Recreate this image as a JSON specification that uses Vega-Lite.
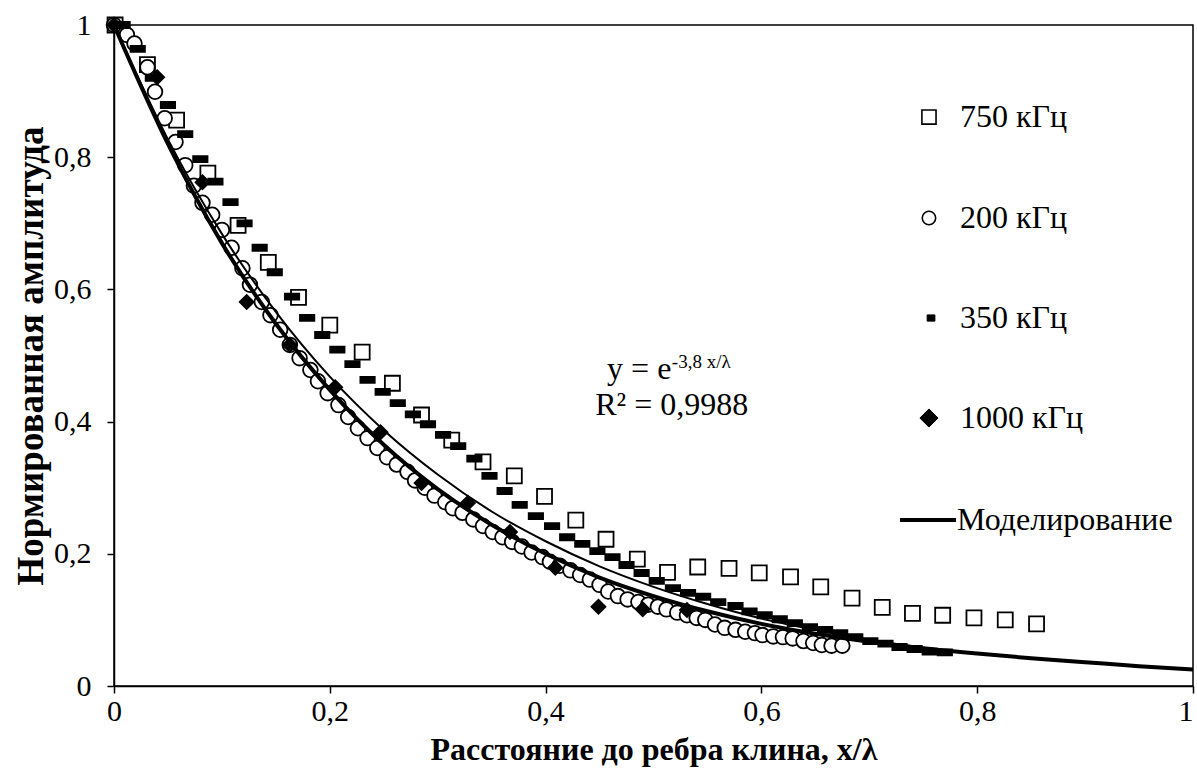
{
  "$schema": "https://vega.github.io/schema/vega-lite/v6.json",
  "width": 1079,
  "height": 661,
  "autosize": {"type": "none"},
  "padding": {"left": 114, "top": 25, "right": 4, "bottom": 90},
  "background": "white",
  "config": {
    "view": {"stroke": "black", "strokeWidth": 1.5},
    "axis": {
      "domainColor": "black", "domainWidth": 1.5, "tickColor": "black", "tickWidth": 1.5, "tickSize": 7,
      "labelFont": "Liberation Serif", "labelFontSize": 30, "labelColor": "black",
      "titleFont": "Liberation Serif", "titleFontWeight": "bold", "titleColor": "black",
      "grid": false
    },
    "text": {"font": "Liberation Serif", "color": "black"}
  },
  "datasets": {
    "points": [
      {"series": "750 кГц", "x": 0.001, "y": 1.0},
      {"series": "750 кГц", "x": 0.031, "y": 0.94},
      {"series": "750 кГц", "x": 0.058, "y": 0.856},
      {"series": "750 кГц", "x": 0.087, "y": 0.776},
      {"series": "750 кГц", "x": 0.115, "y": 0.697},
      {"series": "750 кГц", "x": 0.143, "y": 0.641},
      {"series": "750 кГц", "x": 0.171, "y": 0.588},
      {"series": "750 кГц", "x": 0.2, "y": 0.546},
      {"series": "750 кГц", "x": 0.23, "y": 0.505},
      {"series": "750 кГц", "x": 0.258, "y": 0.458},
      {"series": "750 кГц", "x": 0.285, "y": 0.41},
      {"series": "750 кГц", "x": 0.313, "y": 0.372},
      {"series": "750 кГц", "x": 0.342, "y": 0.339},
      {"series": "750 кГц", "x": 0.371, "y": 0.318},
      {"series": "750 кГц", "x": 0.399, "y": 0.287},
      {"series": "750 кГц", "x": 0.428, "y": 0.251},
      {"series": "750 кГц", "x": 0.456, "y": 0.222},
      {"series": "750 кГц", "x": 0.485, "y": 0.192},
      {"series": "750 кГц", "x": 0.513, "y": 0.172},
      {"series": "750 кГц", "x": 0.541, "y": 0.18},
      {"series": "750 кГц", "x": 0.57, "y": 0.178},
      {"series": "750 кГц", "x": 0.598, "y": 0.171},
      {"series": "750 кГц", "x": 0.627, "y": 0.165},
      {"series": "750 кГц", "x": 0.655, "y": 0.15},
      {"series": "750 кГц", "x": 0.684, "y": 0.133},
      {"series": "750 кГц", "x": 0.712, "y": 0.119},
      {"series": "750 кГц", "x": 0.74, "y": 0.11},
      {"series": "750 кГц", "x": 0.768, "y": 0.107},
      {"series": "750 кГц", "x": 0.797, "y": 0.103},
      {"series": "750 кГц", "x": 0.826, "y": 0.1},
      {"series": "750 кГц", "x": 0.855, "y": 0.094},
      {"series": "200 кГц", "x": 0.0, "y": 1.0},
      {"series": "200 кГц", "x": 0.012, "y": 0.985},
      {"series": "200 кГц", "x": 0.019, "y": 0.972},
      {"series": "200 кГц", "x": 0.031, "y": 0.936},
      {"series": "200 кГц", "x": 0.038, "y": 0.899},
      {"series": "200 кГц", "x": 0.047, "y": 0.859},
      {"series": "200 кГц", "x": 0.057, "y": 0.823},
      {"series": "200 кГц", "x": 0.066, "y": 0.788},
      {"series": "200 кГц", "x": 0.074, "y": 0.757},
      {"series": "200 кГц", "x": 0.082, "y": 0.731},
      {"series": "200 кГц", "x": 0.091, "y": 0.713},
      {"series": "200 кГц", "x": 0.1, "y": 0.69},
      {"series": "200 кГц", "x": 0.109, "y": 0.663},
      {"series": "200 кГц", "x": 0.119, "y": 0.632},
      {"series": "200 кГц", "x": 0.126, "y": 0.607},
      {"series": "200 кГц", "x": 0.137, "y": 0.581},
      {"series": "200 кГц", "x": 0.145, "y": 0.561},
      {"series": "200 кГц", "x": 0.154, "y": 0.539},
      {"series": "200 кГц", "x": 0.163, "y": 0.516},
      {"series": "200 кГц", "x": 0.172, "y": 0.496},
      {"series": "200 кГц", "x": 0.182, "y": 0.478},
      {"series": "200 кГц", "x": 0.189, "y": 0.461},
      {"series": "200 кГц", "x": 0.198, "y": 0.443},
      {"series": "200 кГц", "x": 0.208, "y": 0.425},
      {"series": "200 кГц", "x": 0.217, "y": 0.407},
      {"series": "200 кГц", "x": 0.226, "y": 0.39},
      {"series": "200 кГц", "x": 0.235, "y": 0.375},
      {"series": "200 кГц", "x": 0.244, "y": 0.36},
      {"series": "200 кГц", "x": 0.253, "y": 0.346},
      {"series": "200 кГц", "x": 0.262, "y": 0.335},
      {"series": "200 кГц", "x": 0.272, "y": 0.324},
      {"series": "200 кГц", "x": 0.279, "y": 0.311},
      {"series": "200 кГц", "x": 0.288, "y": 0.3},
      {"series": "200 кГц", "x": 0.297, "y": 0.288},
      {"series": "200 кГц", "x": 0.307, "y": 0.278},
      {"series": "200 кГц", "x": 0.314, "y": 0.269},
      {"series": "200 кГц", "x": 0.323, "y": 0.262},
      {"series": "200 кГц", "x": 0.333, "y": 0.252},
      {"series": "200 кГц", "x": 0.342, "y": 0.242},
      {"series": "200 кГц", "x": 0.351, "y": 0.233},
      {"series": "200 кГц", "x": 0.36, "y": 0.225},
      {"series": "200 кГц", "x": 0.369, "y": 0.218},
      {"series": "200 кГц", "x": 0.378, "y": 0.211},
      {"series": "200 кГц", "x": 0.387, "y": 0.202},
      {"series": "200 кГц", "x": 0.397, "y": 0.195},
      {"series": "200 кГц", "x": 0.404, "y": 0.188},
      {"series": "200 кГц", "x": 0.413, "y": 0.182},
      {"series": "200 кГц", "x": 0.423, "y": 0.175},
      {"series": "200 кГц", "x": 0.432, "y": 0.168},
      {"series": "200 кГц", "x": 0.441, "y": 0.161},
      {"series": "200 кГц", "x": 0.45, "y": 0.153},
      {"series": "200 кГц", "x": 0.458, "y": 0.143},
      {"series": "200 кГц", "x": 0.467, "y": 0.136},
      {"series": "200 кГц", "x": 0.476, "y": 0.131},
      {"series": "200 кГц", "x": 0.486, "y": 0.127},
      {"series": "200 кГц", "x": 0.495, "y": 0.123},
      {"series": "200 кГц", "x": 0.504, "y": 0.12},
      {"series": "200 кГц", "x": 0.512, "y": 0.116},
      {"series": "200 кГц", "x": 0.522, "y": 0.111},
      {"series": "200 кГц", "x": 0.531, "y": 0.107},
      {"series": "200 кГц", "x": 0.54, "y": 0.103},
      {"series": "200 кГц", "x": 0.548, "y": 0.1},
      {"series": "200 кГц", "x": 0.557, "y": 0.093},
      {"series": "200 кГц", "x": 0.566, "y": 0.088},
      {"series": "200 кГц", "x": 0.576, "y": 0.085},
      {"series": "200 кГц", "x": 0.585, "y": 0.082},
      {"series": "200 кГц", "x": 0.594, "y": 0.08},
      {"series": "200 кГц", "x": 0.601, "y": 0.077},
      {"series": "200 кГц", "x": 0.611, "y": 0.075},
      {"series": "200 кГц", "x": 0.62, "y": 0.074},
      {"series": "200 кГц", "x": 0.629, "y": 0.072},
      {"series": "200 кГц", "x": 0.639, "y": 0.068},
      {"series": "200 кГц", "x": 0.648, "y": 0.065},
      {"series": "200 кГц", "x": 0.656, "y": 0.062},
      {"series": "200 кГц", "x": 0.665, "y": 0.061},
      {"series": "200 кГц", "x": 0.675, "y": 0.061},
      {"series": "350 кГц", "x": 0.008, "y": 1.0},
      {"series": "350 кГц", "x": 0.022, "y": 0.964},
      {"series": "350 кГц", "x": 0.036, "y": 0.92},
      {"series": "350 кГц", "x": 0.05, "y": 0.879},
      {"series": "350 кГц", "x": 0.066, "y": 0.835},
      {"series": "350 кГц", "x": 0.08, "y": 0.797},
      {"series": "350 кГц", "x": 0.094, "y": 0.763},
      {"series": "350 кГц", "x": 0.108, "y": 0.732},
      {"series": "350 кГц", "x": 0.121, "y": 0.7},
      {"series": "350 кГц", "x": 0.135, "y": 0.663},
      {"series": "350 кГц", "x": 0.149, "y": 0.626},
      {"series": "350 кГц", "x": 0.165, "y": 0.589},
      {"series": "350 кГц", "x": 0.179, "y": 0.557},
      {"series": "350 кГц", "x": 0.193, "y": 0.531},
      {"series": "350 кГц", "x": 0.207, "y": 0.509},
      {"series": "350 кГц", "x": 0.221, "y": 0.487},
      {"series": "350 кГц", "x": 0.235, "y": 0.463},
      {"series": "350 кГц", "x": 0.249, "y": 0.445},
      {"series": "350 кГц", "x": 0.263, "y": 0.428},
      {"series": "350 кГц", "x": 0.277, "y": 0.411},
      {"series": "350 кГц", "x": 0.291, "y": 0.396},
      {"series": "350 кГц", "x": 0.305, "y": 0.38},
      {"series": "350 кГц", "x": 0.319, "y": 0.363},
      {"series": "350 кГц", "x": 0.334, "y": 0.344},
      {"series": "350 кГц", "x": 0.348, "y": 0.318},
      {"series": "350 кГц", "x": 0.362, "y": 0.295},
      {"series": "350 кГц", "x": 0.376, "y": 0.274},
      {"series": "350 кГц", "x": 0.391, "y": 0.257},
      {"series": "350 кГц", "x": 0.406, "y": 0.242},
      {"series": "350 кГц", "x": 0.42, "y": 0.225},
      {"series": "350 кГц", "x": 0.434, "y": 0.215},
      {"series": "350 кГц", "x": 0.448, "y": 0.204},
      {"series": "350 кГц", "x": 0.462, "y": 0.195},
      {"series": "350 кГц", "x": 0.475, "y": 0.183},
      {"series": "350 кГц", "x": 0.489, "y": 0.171},
      {"series": "350 кГц", "x": 0.503, "y": 0.159},
      {"series": "350 кГц", "x": 0.518, "y": 0.148},
      {"series": "350 кГц", "x": 0.532, "y": 0.141},
      {"series": "350 кГц", "x": 0.546, "y": 0.135},
      {"series": "350 кГц", "x": 0.56, "y": 0.127},
      {"series": "350 кГц", "x": 0.576, "y": 0.121},
      {"series": "350 кГц", "x": 0.589, "y": 0.113},
      {"series": "350 кГц", "x": 0.603, "y": 0.107},
      {"series": "350 кГц", "x": 0.617, "y": 0.101},
      {"series": "350 кГц", "x": 0.631, "y": 0.095},
      {"series": "350 кГц", "x": 0.645, "y": 0.089},
      {"series": "350 кГц", "x": 0.659, "y": 0.085},
      {"series": "350 кГц", "x": 0.673, "y": 0.08},
      {"series": "350 кГц", "x": 0.687, "y": 0.074},
      {"series": "350 кГц", "x": 0.701, "y": 0.068},
      {"series": "350 кГц", "x": 0.715, "y": 0.064},
      {"series": "350 кГц", "x": 0.728, "y": 0.059},
      {"series": "350 кГц", "x": 0.742, "y": 0.056},
      {"series": "350 кГц", "x": 0.756, "y": 0.052},
      {"series": "350 кГц", "x": 0.77, "y": 0.051},
      {"series": "1000 кГц", "x": 0.0, "y": 1.0},
      {"series": "1000 кГц", "x": 0.04, "y": 0.921},
      {"series": "1000 кГц", "x": 0.082, "y": 0.762},
      {"series": "1000 кГц", "x": 0.123, "y": 0.581},
      {"series": "1000 кГц", "x": 0.163, "y": 0.516},
      {"series": "1000 кГц", "x": 0.205, "y": 0.452},
      {"series": "1000 кГц", "x": 0.247, "y": 0.384},
      {"series": "1000 кГц", "x": 0.285, "y": 0.307},
      {"series": "1000 кГц", "x": 0.328, "y": 0.277},
      {"series": "1000 кГц", "x": 0.367, "y": 0.233},
      {"series": "1000 кГц", "x": 0.409, "y": 0.179},
      {"series": "1000 кГц", "x": 0.449, "y": 0.12},
      {"series": "1000 кГц", "x": 0.49, "y": 0.116},
      {"series": "1000 кГц", "x": 0.531, "y": 0.115}
    ],
    "model": [
      {"x": 0, "y": 1}, {"x": 0.05, "y": 0.82}, {"x": 0.1, "y": 0.67}, {"x": 0.15, "y": 0.548},
      {"x": 0.2, "y": 0.448}, {"x": 0.25, "y": 0.365}, {"x": 0.3, "y": 0.298}, {"x": 0.35, "y": 0.244},
      {"x": 0.4, "y": 0.2}, {"x": 0.45, "y": 0.164}, {"x": 0.5, "y": 0.136}, {"x": 0.55, "y": 0.113},
      {"x": 0.6, "y": 0.094}, {"x": 0.65, "y": 0.079}, {"x": 0.7, "y": 0.067}, {"x": 0.75, "y": 0.057},
      {"x": 0.8, "y": 0.049}, {"x": 0.85, "y": 0.042}, {"x": 0.9, "y": 0.036}, {"x": 0.95, "y": 0.03},
      {"x": 1.0, "y": 0.025}
    ],
    "trend": [
      {"x": 0, "y": 1}, {"x": 0.05, "y": 0.827}, {"x": 0.1, "y": 0.684}, {"x": 0.15, "y": 0.566},
      {"x": 0.2, "y": 0.468}, {"x": 0.25, "y": 0.387}, {"x": 0.3, "y": 0.32}, {"x": 0.35, "y": 0.264},
      {"x": 0.4, "y": 0.219}, {"x": 0.45, "y": 0.181}, {"x": 0.5, "y": 0.15}, {"x": 0.55, "y": 0.124},
      {"x": 0.6, "y": 0.102}, {"x": 0.65, "y": 0.085}, {"x": 0.7, "y": 0.07}, {"x": 0.75, "y": 0.058},
      {"x": 0.78, "y": 0.052}
    ]
  },
  "layer": [
    {
      "data": {"name": "points"},
      "mark": {"type": "point", "stroke": "black", "strokeWidth": 1.8, "opacity": 1, "fillOpacity": 1},
      "encoding": {
        "x": {"field": "x", "type": "quantitative", "scale": {"domain": [0, 1], "nice": false},
          "axis": {"values": [0, 0.2, 0.4, 0.6, 0.8, 1], "labelExpr": "replace(format(datum.value, '~g'), '.', ',')",
                   "labelPadding": 3, "labelFlush": false,
                   "labelAlign": {"condition": {"test": "datum.value === 1", "value": "right"}, "value": "center"},
                   "titlePadding": 8, "titleFontSize": 32, "title": "Расстояние до ребра клина, x/λ"}},
        "y": {"field": "y", "type": "quantitative", "scale": {"domain": [0, 1], "nice": false},
          "axis": {"values": [0, 0.2, 0.4, 0.6, 0.8, 1], "labelExpr": "replace(format(datum.value, '~g'), '.', ',')",
                   "labelPadding": 16, "labelFlush": false, "titlePadding": 3, "titleFontSize": 37,
                   "title": "Нормированная амплитуда"}},
        "shape": {"field": "series", "type": "nominal",
          "scale": {"domain": ["750 кГц", "200 кГц", "350 кГц", "1000 кГц"],
                    "range": ["square", "circle", "M-1,-0.42L1,-0.42L1,0.42L-1,0.42Z", "diamond"]},
          "legend": null},
        "fill": {"field": "series", "type": "nominal",
          "scale": {"domain": ["750 кГц", "200 кГц", "350 кГц", "1000 кГц"], "range": ["white", "white", "black", "black"]},
          "legend": null},
        "size": {"field": "series", "type": "nominal",
          "scale": {"domain": ["750 кГц", "200 кГц", "350 кГц", "1000 кГц"], "range": [225, 196, 289, 380]},
          "legend": null}
      }
    },
    {
      "data": {"name": "trend"},
      "mark": {"type": "line", "color": "black", "strokeWidth": 2, "interpolate": "monotone"},
      "encoding": {"x": {"field": "x", "type": "quantitative"}, "y": {"field": "y", "type": "quantitative"}}
    },
    {
      "data": {"name": "model"},
      "mark": {"type": "line", "color": "black", "strokeWidth": 4, "interpolate": "monotone"},
      "encoding": {"x": {"field": "x", "type": "quantitative"}, "y": {"field": "y", "type": "quantitative"}}
    },
    {
      "data": {"values": [{"t": "y = e"}]},
      "mark": {"type": "text", "fontSize": 32, "align": "left", "baseline": "alphabetic"},
      "encoding": {"x": {"datum": 0.457}, "y": {"datum": 0.4645}, "text": {"field": "t"}}
    },
    {
      "data": {"values": [{"t": "-3,8 x/λ"}]},
      "mark": {"type": "text", "fontSize": 19, "align": "left", "baseline": "alphabetic"},
      "encoding": {"x": {"datum": 0.517}, "y": {"datum": 0.481}, "text": {"field": "t"}}
    },
    {
      "data": {"values": [{"t": "R² = 0,9988"}]},
      "mark": {"type": "text", "fontSize": 32, "align": "left", "baseline": "alphabetic"},
      "encoding": {"x": {"datum": 0.446}, "y": {"datum": 0.41}, "text": {"field": "t"}}
    },
    {
      "data": {"values": [{"label": "750 кГц"}]},
      "layer": [
        {"mark": {"type": "point", "shape": "square", "size": 200, "fill": "white", "fillOpacity": 1, "stroke": "black", "strokeWidth": 1.6, "opacity": 1},
         "encoding": {"x": {"datum": 0.7553}, "y": {"datum": 0.8608}}},
        {"mark": {"type": "text", "fontSize": 32, "align": "left", "baseline": "middle"},
         "encoding": {"x": {"datum": 0.7841}, "y": {"datum": 0.8608}, "text": {"field": "label"}}}
      ]
    },
    {
      "data": {"values": [{"label": "200 кГц"}]},
      "layer": [
        {"mark": {"type": "point", "shape": "circle", "size": 180, "fill": "white", "fillOpacity": 1, "stroke": "black", "strokeWidth": 1.6, "opacity": 1},
         "encoding": {"x": {"datum": 0.7553}, "y": {"datum": 0.708}}},
        {"mark": {"type": "text", "fontSize": 32, "align": "left", "baseline": "middle"},
         "encoding": {"x": {"datum": 0.7841}, "y": {"datum": 0.708}, "text": {"field": "label"}}}
      ]
    },
    {
      "data": {"values": [{"label": "350 кГц"}]},
      "layer": [
        {"mark": {"type": "point", "shape": "M-1,-0.8L1,-0.8L1,0.8L-1,0.8Z", "size": 60, "fill": "black", "fillOpacity": 1, "stroke": "black", "strokeWidth": 1, "opacity": 1},
         "encoding": {"x": {"datum": 0.7572}, "y": {"datum": 0.5567}}},
        {"mark": {"type": "text", "fontSize": 32, "align": "left", "baseline": "middle"},
         "encoding": {"x": {"datum": 0.7841}, "y": {"datum": 0.5567}, "text": {"field": "label"}}}
      ]
    },
    {
      "data": {"values": [{"label": "1000 кГц"}]},
      "layer": [
        {"mark": {"type": "point", "shape": "diamond", "size": 330, "fill": "black", "fillOpacity": 1, "stroke": "black", "strokeWidth": 1, "opacity": 1},
         "encoding": {"x": {"datum": 0.7553}, "y": {"datum": 0.4054}}},
        {"mark": {"type": "text", "fontSize": 32, "align": "left", "baseline": "middle"},
         "encoding": {"x": {"datum": 0.7841}, "y": {"datum": 0.4054}, "text": {"field": "label"}}}
      ]
    },
    {
      "data": {"values": [{"label": "Моделирование"}]},
      "layer": [
        {"mark": {"type": "rule", "color": "black", "strokeWidth": 4},
         "encoding": {"x": {"datum": 0.7285}, "x2": {"datum": 0.7804}, "y": {"datum": 0.2511}}},
        {"mark": {"type": "text", "fontSize": 32, "align": "left", "baseline": "middle"},
         "encoding": {"x": {"datum": 0.7813}, "y": {"datum": 0.2511}, "text": {"field": "label"}}}
      ]
    }
  ]
}
